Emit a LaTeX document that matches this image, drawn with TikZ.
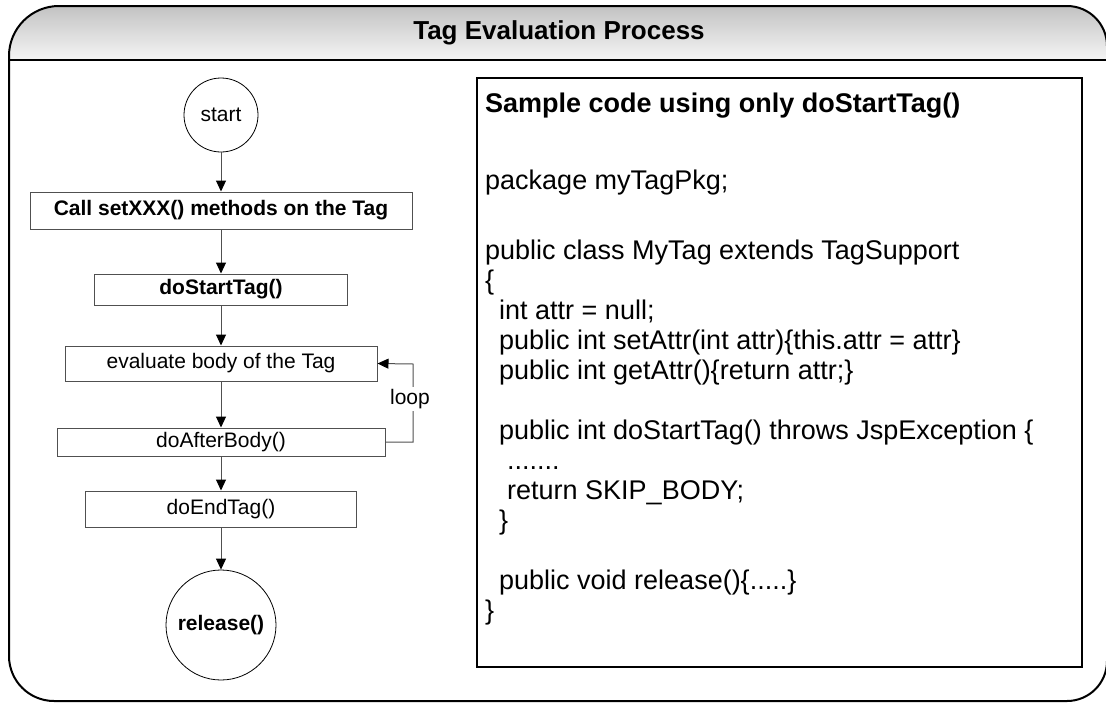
\documentclass[tikz,border=0pt]{standalone}
\usepackage{fontspec}
\setmainfont{Liberation Sans}
\usetikzlibrary{arrows.meta}
\definecolor{linegray}{HTML}{505050}
\definecolor{bartop}{HTML}{BDBDBD}
\definecolor{barbot}{HTML}{F5F5F5}
\begin{document}
\begin{tikzpicture}[x=1pt,y=-1pt,
  flowfont/.style={font=\fontsize{21}{25}\selectfont},
  flowbold/.style={font=\fontsize{21}{25}\selectfont\bfseries},
  flowbox/.style={draw=linegray, line width=1pt, fill=white, inner sep=0pt, rectangle},
  flowcircle/.style={draw=black, line width=0.8pt, circle, inner sep=0pt, fill=white},
  flowarrow/.style={draw=linegray, line width=1pt, -{Triangle[length=11pt,width=10pt,color=black]}},
  codeline/.style={anchor=base west, inner sep=0pt, font=\fontsize{27}{30}\selectfont},
]
\useasboundingbox (0,0) rectangle (1106,702);
\def\framepath{(9,300) -- (9,56) arc[start angle=180, end angle=270, radius=50] -- (1067,6) arc[start angle=270, end angle=360, radius=40] -- (1107,661) arc[start angle=0, end angle=90, radius=40] -- (54,701) arc[start angle=90, end angle=180, radius=45] -- cycle}
% title bar shading
\begin{scope}
  \clip \framepath;
  \shade[top color=bartop, bottom color=barbot] (0,0) rectangle (1110,60);
\end{scope}
\draw[line width=2pt] \framepath;
\draw[line width=2pt] (9,60) -- (1107,60);
\node[font=\fontsize{26}{30}\selectfont\bfseries] (title) at (559,33) {Tag Evaluation Process};

% flowchart
\node[flowcircle, flowfont, minimum size=74pt] (start) at (221,115) {start};
\node[flowbox, flowbold, minimum width=382pt, minimum height=37pt] (call) at (221,210.5) {Call setXXX() methods on the Tag};
\node[flowbox, flowbold, minimum width=253pt, minimum height=31pt] (dostart) at (221,289.5) {doStartTag()};
\node[flowbox, flowfont, minimum width=312pt, minimum height=35pt] (eval) at (221,363.5) {evaluate body of the Tag};
\node[flowbox, flowfont, minimum width=328pt, minimum height=28pt] (after) at (221,442) {doAfterBody()};
\node[flowbox, flowfont, minimum width=271pt, minimum height=36pt] (doend) at (221,509) {doEndTag()};
\node[flowcircle, flowbold, minimum size=110pt] (release) at (221,625) {release()};

\draw[flowarrow] (start) -- (call);
\draw[flowarrow] (call) -- (dostart);
\draw[flowarrow] (dostart) -- (eval);
\draw[flowarrow] (eval) -- (after);
\draw[flowarrow] (after) -- (doend);
\draw[flowarrow] (doend) -- (release);
\coordinate (lb) at (413,442);
\coordinate (lt) at (413,364);
\draw[flowarrow] (after.east) -- (lb) -- (lt) -- (eval.east);
\node[flowfont, fill=white, inner sep=2pt] (looplbl) at (410,399) {loop};

% code box
\node[draw=black, line width=2pt, minimum width=605pt, minimum height=589pt, inner sep=0pt] (codebox) at (779.5,372.5) {};
\node[codeline, font=\fontsize{27}{30}\selectfont\bfseries] (c0) at (485,112) {Sample code using only doStartTag()};
\node[codeline] (c1) at (485,189) {package myTagPkg;};
\node[codeline] (c2) at (485,259) {public class MyTag extends TagSupport};
\node[codeline] (c3) at (485,289) {\{};
\node[codeline] (c4) at (499,319) {int attr = null;};
\node[codeline] (c5) at (499,349) {public int setAttr(int attr)\{this.attr = attr\}};
\node[codeline] (c6) at (499,379) {public int getAttr()\{return attr;\}};
\node[codeline] (c7) at (499,439) {public int doStartTag() throws JspException \{};
\node[codeline] (c8) at (507,469) {.......};
\node[codeline] (c9) at (507,499) {return SKIP\_BODY;};
\node[codeline] (c10) at (499,529) {\}};
\node[codeline] (c11) at (499,589) {public void release()\{.....\}};
\node[codeline] (c12) at (485,619) {\}};
\end{tikzpicture}
\end{document}
